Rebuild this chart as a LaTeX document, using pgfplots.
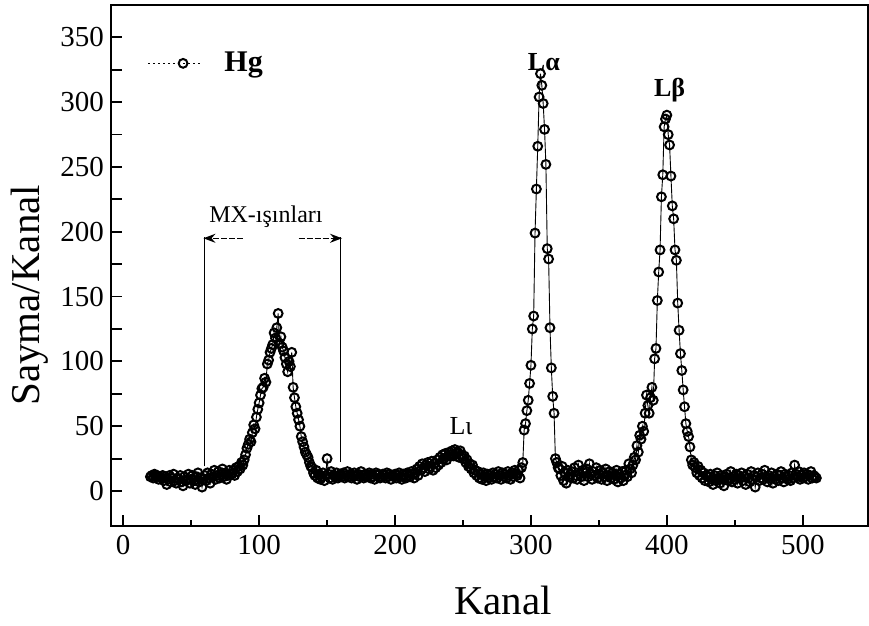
\documentclass[border=0pt]{standalone}
\usepackage{pgfplots}
\pgfplotsset{compat=1.18}
\usepackage{fontspec}
\setmainfont{Liberation Serif}
\usetikzlibrary{arrows.meta}
\begin{document}
\begin{tikzpicture}
\begin{axis}[
  at={(0pt,0pt)}, anchor=south west,
  scale only axis, width=378.5pt, height=260.5pt,
  xmin=-9, xmax=548, ymin=-27, ymax=375,
  xtick={0,100,...,500}, minor x tick num=1,
  ytick={0,25,...,350},
  yticklabels={0,,50,,100,,150,,200,,250,,300,,350},
  xtick pos=bottom, ytick pos=left,
  tick align=inside,
  major tick length=5.5pt, minor tick length=3pt,
  every tick/.style={black, line width=0.9pt},
  axis line style={line width=1.1pt},
  /pgf/number format/assume math mode=true,
  tick label style={font=\fontsize{14.5}{16}\selectfont},
  xticklabel style={yshift=-1pt},
  xlabel={Kanal}, ylabel={Sayma/Kanal},
  label style={font=\fontsize{20.5}{24}\selectfont},
  xlabel style={at={(axis description cs:0.518,-0.142)}, anchor=center},
  ylabel style={at={(axis description cs:-0.107,0.443)}, anchor=center},
  legend style={at={(axis description cs:0.04,0.888)}, anchor=west, draw=none, fill=none,
    font=\fontsize{15}{17}\selectfont\bfseries},
  legend image code/.code={
    \draw[#1, mark=none, dash pattern=on 1pt off 1.5pt, line width=0.4pt] (0pt,0pt) -- (26pt,0pt);
    \draw[#1, only marks] plot coordinates {(17.5pt,0pt)};
  },
]
\addplot[black, line width=0.45pt, mark=o, mark size=2.2pt, mark options={solid, line width=1pt}] coordinates {
(20,11)(21,12)(22,10)(23,13)(24,11)(25,12)(26,9)(27,11)(28,10)(29,12)
(30,8)(31,11)(32,5)(33,9)(34,12)(35,7)(36,10)(37,13)(38,8)(39,6)
(40,10)(41,9)(42,12)(43,7)(44,4)(45,11)(46,8)(47,9)(48,13)(49,6)
(50,9)(51,12)(52,8)(53,5)(54,11)(55,14)(56,7)(57,10)(58,3)(59,9)
(60,12)(61,8)(62,14)(63,10)(64,6)(65,13)(66,11)(67,16)(68,9)(69,12)
(70,15)(71,10)(72,13)(73,17)(74,11)(75,14)(76,9)(77,12)(78,16)(79,13)
(80,13)(81,16)(82,12)(83,18)(84,15)(85,19)(86,17)(87,22)(88,20)(89,24)
(90,28)(91,33)(92,36)(93,40)(94,38)(95,45)(96,51)(97,48)(98,57)(99,63)
(100,68)(101,74)(102,79)(103,80)(104,87)(105,84)(106,98)(107,101)(108,107)(109,110)
(110,113)(111,122)(112,118)(113,126)(114,137)(115,114)(116,119)(117,111)(118,108)(119,103)
(120,98)(121,92)(122,100)(123,96)(124,107)(125,80)(126,72)(127,65)(128,60)(129,55)
(130,50)(131,42)(132,38)(133,34)(134,30)(135,28)(136,26)(137,22)(138,19)(139,18)
(140,14)(141,12)(142,16)(143,10)(144,13)(145,9)(146,11)(147,14)(148,8)(149,12)
(150,25)(151,13)(152,10)(153,15)(154,9)(155,12)(156,11)(157,14)(158,10)(159,12)
(160,13)(161,11)(162,14)(163,10)(164,12)(165,15)(166,11)(167,13)(168,10)(169,12)
(170,14)(171,12)(172,9)(173,13)(174,11)(175,15)(176,12)(177,10)(178,13)(179,11)
(180,12)(181,14)(182,10)(183,13)(184,11)(185,9)(186,14)(187,12)(188,13)(189,10)
(190,11)(191,13)(192,12)(193,10)(194,14)(195,11)(196,13)(197,9)(198,12)(199,11)
(200,13)(201,10)(202,12)(203,14)(204,11)(205,9)(206,13)(207,12)(208,10)(209,14)
(210,12)(211,11)(212,15)(213,13)(214,10)(215,14)(216,17)(217,12)(218,19)(219,16)
(220,21)(221,18)(222,15)(223,20)(224,22)(225,17)(226,19)(227,23)(228,16)(229,21)
(230,18)(231,24)(232,20)(233,26)(234,22)(235,28)(236,25)(237,29)(238,24)(239,27)
(240,30)(241,28)(242,31)(243,27)(244,32)(245,29)(246,30)(247,26)(248,31)(249,28)
(250,25)(251,27)(252,22)(253,24)(254,19)(255,21)(256,17)(257,20)(258,14)(259,16)
(260,12)(261,15)(262,10)(263,13)(264,9)(265,14)(266,11)(267,8)(268,13)(269,10)
(270,12)(271,9)(272,14)(273,11)(274,13)(275,10)(276,15)(277,12)(278,9)(279,14)
(280,11)(281,13)(282,10)(283,15)(284,12)(285,9)(286,14)(287,11)(288,16)(289,13)
(290,12)(291,16)(292,10)(293,18)(294,22)(295,47)(296,52)(297,62)(298,70)(299,83)
(300,97)(301,125)(302,135)(303,199)(304,233)(305,266)(306,304)(307,322)(308,313)(309,299)
(310,279)(311,252)(312,187)(313,179)(314,126)(315,95)(316,73)(317,60)(318,25)(319,22)
(320,18)(321,17)(322,12)(323,19)(324,8)(325,14)(326,6)(327,16)(328,11)(329,13)
(330,15)(331,10)(332,18)(333,12)(334,9)(335,20)(336,13)(337,11)(338,16)(339,8)
(340,14)(341,17)(342,11)(343,21)(344,13)(345,9)(346,15)(347,12)(348,18)(349,10)
(350,13)(351,16)(352,9)(353,14)(354,11)(355,17)(356,8)(357,12)(358,15)(359,10)
(360,14)(361,9)(362,12)(363,16)(364,7)(365,13)(366,10)(367,15)(368,8)(369,12)
(370,16)(371,11)(372,21)(373,17)(374,14)(375,20)(376,26)(377,24)(378,35)(379,30)
(380,43)(381,40)(382,50)(383,46)(384,60)(385,74)(386,66)(387,60)(388,72)(389,80)
(390,70)(391,102)(392,110)(393,147)(394,169)(395,186)(396,227)(397,244)(398,281)(399,287)
(400,290)(401,275)(402,267)(403,243)(404,220)(405,210)(406,186)(407,178)(408,145)(409,124)
(410,106)(411,93)(412,78)(413,65)(414,52)(415,46)(416,42)(417,34)(418,24)(419,20)
(420,22)(421,18)(422,14)(423,19)(424,12)(425,16)(426,10)(427,14)(428,8)(429,12)
(430,11)(431,7)(432,13)(433,9)(434,5)(435,12)(436,8)(437,14)(438,10)(439,6)
(440,12)(441,9)(442,4)(443,11)(444,13)(445,8)(446,10)(447,15)(448,7)(449,11)
(450,9)(451,13)(452,6)(453,12)(454,10)(455,14)(456,8)(457,11)(458,5)(459,13)
(460,10)(461,7)(462,15)(463,9)(464,12)(465,3)(466,11)(467,14)(468,8)(469,10)
(470,13)(471,9)(472,16)(473,11)(474,7)(475,12)(476,10)(477,14)(478,6)(479,11)
(480,9)(481,13)(482,8)(483,12)(484,15)(485,10)(486,7)(487,13)(488,11)(489,9)
(490,12)(491,8)(492,14)(493,10)(494,20)(495,13)(496,11)(497,15)(498,9)(499,12)
(500,10)(501,14)(502,11)(503,13)(504,9)(505,12)(506,15)(507,10)(508,12)(509,11)
(510,10)
};
\addlegendentry{\hspace{10pt}Hg}
% MX annotation
\draw[line width=0.7pt] (axis cs:60,19) -- (axis cs:60,196);
\draw[line width=0.7pt] (axis cs:160,22) -- (axis cs:160,196);
\draw[line width=0.7pt, dash pattern=on 3pt off 1pt, -{Stealth[length=6pt,width=4.5pt]}] (axis cs:88,195) -- (axis cs:59,195);
\draw[line width=0.7pt, dash pattern=on 3pt off 1pt, -{Stealth[length=6pt,width=4.5pt]}] (axis cs:129,195) -- (axis cs:161,195);
\node[font=\fontsize{12}{14}\selectfont] at (axis cs:105,212) {MX-ışınları};
\node[font=\fontsize{13}{15}\selectfont\bfseries] at (axis cs:309.5,331) {Lα};
\node[font=\fontsize{13}{15}\selectfont\bfseries] at (axis cs:402,309) {Lβ};
\node[font=\fontsize{13}{15}\selectfont] at (axis cs:248.5,50) {Lι};
\end{axis}
\pgfresetboundingbox
\useasboundingbox (-55.5pt,-50pt) rectangle (379pt,263pt);
\end{tikzpicture}
\end{document}
